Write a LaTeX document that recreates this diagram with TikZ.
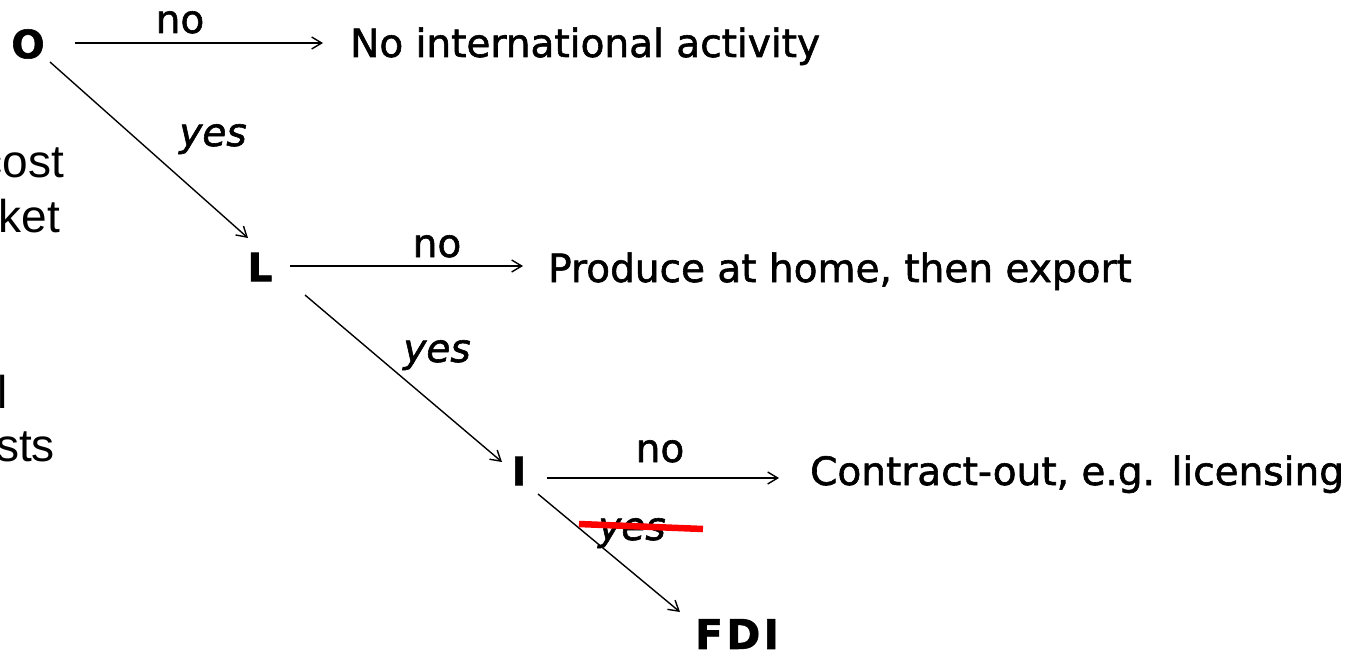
\documentclass[tikz,border=0pt]{standalone}
\usepackage{fontspec}
\setmainfont{DejaVu Sans}[FakeBold=1.5]
\newfontfamily\fragfont{Liberation Sans}
\usetikzlibrary{arrows.meta}

\begin{document}
\begin{tikzpicture}[x=1pt, y=-1pt,
    every node/.style={inner sep=0pt, font=\fontsize{39}{46}\selectfont},
    step letter/.style={font=\fontsize{39}{46}\selectfont\bfseries},
    outcome/.style={anchor=base west},
    answer/.style={anchor=base},
    yesanswer/.style={anchor=base, font=\fontsize{39}{46}\selectfont\itshape},
    frag/.style={anchor=base east, font=\fontsize{46}{54}\selectfont\fragfont},
    branch/.style={line width=1.4pt, -{Straight Barb[length=10pt, width=12pt, line width=1.4pt]}}]

  \useasboundingbox (0, 0) rectangle (1355, 650);

  \node[frag] (cost) at (64, 178) {cost};
  \node[frag] (ket) at (60, 232) {ket};
  \node[frag] (ell) at (8, 408) {l};
  \node[frag] (sts) at (55, 461) {sts};

  \node[step letter] (O) at (28, 44) {O};
  \node[step letter] (L) at (260, 267) {L};
  \node[step letter] (I) at (519, 471) {I};
  \node[step letter, font=\fontsize{41}{46}\selectfont\bfseries\addfontfeature{LetterSpace=8}] (FDI) at (737, 634) {FDI};

  \node[outcome] (noint) at (350, 57) {No international activity};
  \node[outcome] (export) at (548, 282) {Produce at home, then export};
  \node[outcome] (contract) at (810, 485) {Contract-out, e.g. licensing};

  \node[answer] (noO) at (180, 33) {no};
  \node[answer] (noL) at (437, 257) {no};
  \node[answer] (noI) at (660, 462) {no};
  \node[yesanswer] (yesO) at (213, 146) {yes};
  \node[yesanswer] (yesL) at (437, 362) {yes};
  \node[yesanswer] (yesI) at (632, 540) {yes};

  \draw[branch] ([shift={(47, -1)}]O.center) -- ([shift={(-27, -14)}]noint.base west);
  \draw[branch] ([shift={(22, 18)}]O.center) -- ([shift={(-12, -29)}]L.center);
  \draw[branch] ([shift={(30, -1)}]L.center) -- ([shift={(-25, -16)}]export.base west);
  \draw[branch] ([shift={(45, 28)}]L.center) -- ([shift={(-17, -9)}]I.center);
  \draw[branch] ([shift={(28, 7)}]I.center) -- ([shift={(-31, -7)}]contract.base west);
  \draw[branch] ([shift={(19, 23)}]I.center) -- ([shift={(-57, -22)}]FDI.center);

  \draw[red, line width=6.5pt] ([shift={(-53, -16)}]yesI.base) -- ([shift={(71, -11)}]yesI.base);
\end{tikzpicture}
\end{document}
